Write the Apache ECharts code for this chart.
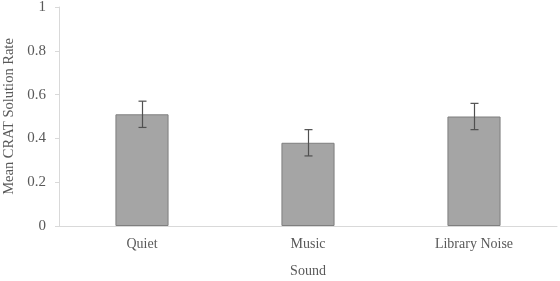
<!DOCTYPE html>
<html><head><meta charset="utf-8">
<script src="https://cdn.jsdelivr.net/npm/echarts@6/dist/echarts.min.js"></script>
<style>html,body{margin:0;padding:0;background:#fff}#c{width:560px;height:281px}</style>
</head><body><div id="c"></div>
<script>
var categories = ['Quiet', 'Music', 'Library Noise'];
var means = [0.51, 0.38, 0.50];
var errLow = [0.45, 0.32, 0.44];
var errHigh = [0.57, 0.44, 0.56];
var yTicks = [0, 0.2, 0.4, 0.6, 0.8, 1];

var font = 'Liberation Serif';
var chart = echarts.init(document.getElementById('c'));
chart.setOption({
  animation: false,
  grid: {left: 59, right: 3, top: 7, bottom: 55, outerBoundsMode: 'none', containLabel: false},
  xAxis: {
    type: 'category', data: categories,
    name: 'Sound', nameLocation: 'middle', nameGap: 38,
    nameTextStyle: {fontFamily: font, fontSize: 14, color: '#595959'},
    axisLine: {lineStyle: {color: '#d9d9d9', width: 1}},
    axisTick: {show: false},
    axisLabel: {fontFamily: font, fontSize: 14, color: '#595959', margin: 11}
  },
  yAxis: {
    type: 'value', min: 0, max: 1, interval: 0.2,
    name: 'Mean CRAT Solution Rate', nameLocation: 'middle', nameGap: 40,
    nameTextStyle: {fontFamily: font, fontSize: 14.5, color: '#595959'},
    axisLine: {show: true, lineStyle: {color: '#d9d9d9'}},
    axisTick: {show: true, length: 4, lineStyle: {color: '#d9d9d9'}},
    splitLine: {show: false},
    axisLabel: {fontFamily: font, fontSize: 15, color: '#595959', margin: 13,
      formatter: function (v) { return yTicks.indexOf(+v.toFixed(1)) >= 0 ? String(+v.toFixed(1)) : ''; }}
  },
  series: [{
    type: 'bar', data: means, barWidth: '32%',
    itemStyle: {color: '#a5a5a5', borderColor: '#7f7f7f', borderWidth: 1}
  }, {
    type: 'custom',
    data: categories.map(function (c, i) { return [i, errLow[i], errHigh[i]]; }),
    renderItem: function (params, api) {
      var lo = api.coord([api.value(0), api.value(1)]);
      var hi = api.coord([api.value(0), api.value(2)]);
      var x = Math.round(lo[0]) + 0.5, hw = 4;
      var st = {stroke: '#505050', lineWidth: 1.2};
      return {type: 'group', children: [
        {type: 'line', shape: {x1: x, y1: hi[1], x2: x, y2: lo[1]}, style: st},
        {type: 'line', shape: {x1: x - hw, y1: hi[1], x2: x + hw, y2: hi[1]}, style: st},
        {type: 'line', shape: {x1: x - hw, y1: lo[1], x2: x + hw, y2: lo[1]}, style: st}
      ]};
    },
    z: 10
  }]
});
</script></body></html>
